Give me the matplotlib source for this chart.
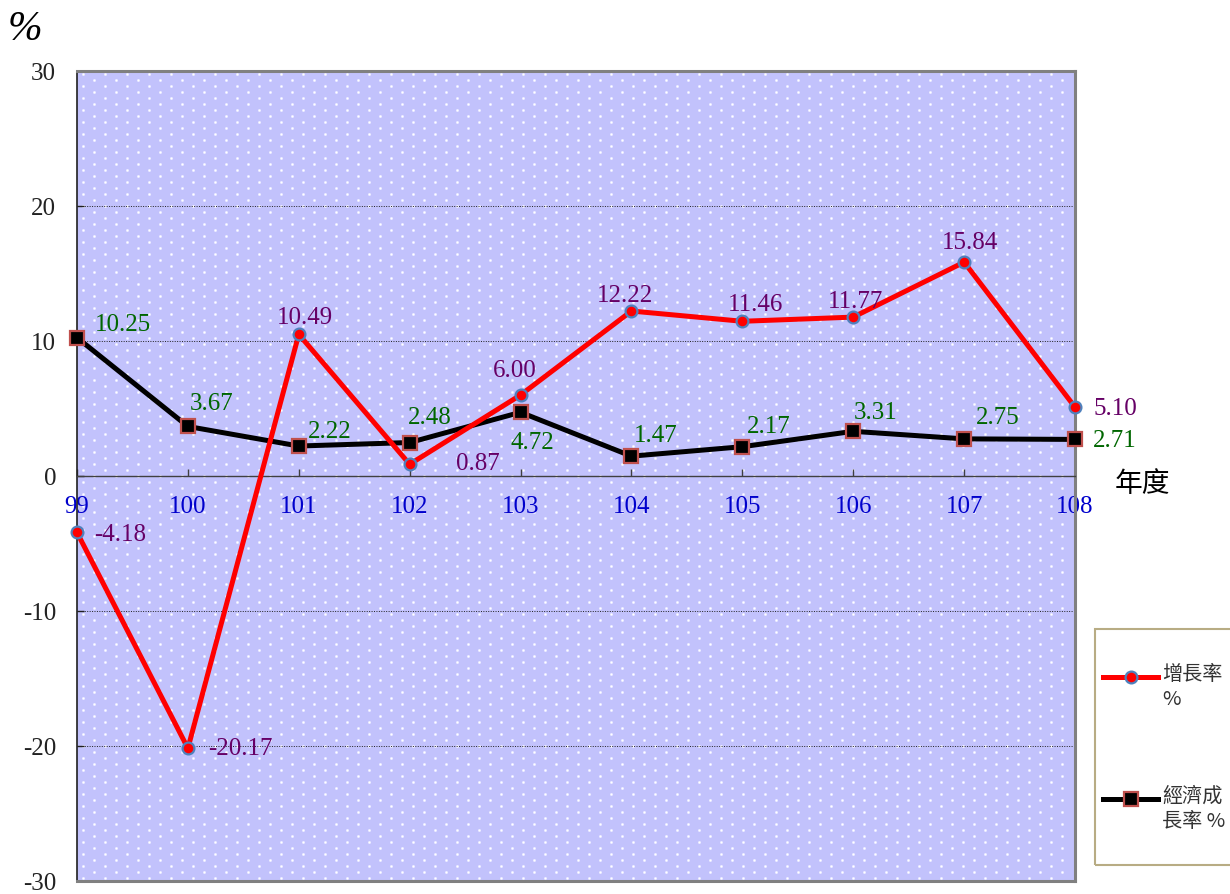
import numpy as np
import matplotlib
matplotlib.use("Agg")
import matplotlib.pyplot as plt
from matplotlib.lines import Line2D
from matplotlib.patches import Rectangle

# ---- data ----
years = ["99", "100", "101", "102", "103", "104", "105", "106", "107", "108"]
growth = [-4.18, -20.17, 10.49, 0.87, 6.00, 12.22, 11.46, 11.77, 15.84, 5.10]
econ = [10.25, 3.67, 2.22, 2.48, 4.72, 1.47, 2.17, 3.31, 2.75, 2.71]
yticks = [30, 20, 10, 0, -10, -20, -30]
growth_name = "增長率\n%"
econ_name = "經濟成\n長率 %"

# label offsets in pixels (dx right, dy up)
growth_off = [(43, -2), (52, 0), (6, 17), (68, 1), (-6, 25), (-6, 16), (13, 17), (2, 16), (6, 20), (40, -1)]
econ_off = [(46, 14), (24, 23), (31, 15), (20, 26), (12, -30), (24, 21), (26, 21), (22, 19), (34, 22), (40, -1)]

W, H = 1230, 895
fig = plt.figure(figsize=(W / 100, H / 100), dpi=100)
fig.patch.set_facecolor("white")

def fx(x):
    return x / W

def fy(y):
    return 1 - y / H

L, R, T, B = 77, 1075, 72, 882
ax = fig.add_axes([fx(L), fy(B), (R - L) / W, (B - T) / H])

serif = "Liberation Serif"
cjk = ["Noto Sans CJK TC", "DejaVu Sans"]
FS = 18

# background dotted pattern
pw, ph = R - L, B - T
img = np.zeros((ph, pw, 3))
img[:, :] = np.array([194, 194, 252]) / 255.0
for r, yy in enumerate(range(3, ph - 2, 6)):
    off = 0 if r % 2 == 0 else 11
    xs = np.arange(6 + off, pw - 2, 22)
    for ddy in (-1, 0, 1):
        for ddx in (-1, 0, 1):
            c = 255 if (ddx == 0 and ddy == 0) else (235 if ddx == 0 or ddy == 0 else 215)
            img[yy + ddy, xs + ddx] = np.array([c, c, 255]) / 255.0
ax.imshow(img, extent=[0, 1, 0, 1], transform=ax.transAxes, aspect="auto",
          interpolation="nearest", zorder=0)

x = np.arange(len(years))
ax.set_xlim(0, len(years) - 1)
ax.set_ylim(-30, 30)

# grid lines
for v in [20, 10, -10, -20]:
    ax.axhline(v, color="#222222", lw=0.7, ls=(0, (1, 1.5)), zorder=1)

# series
ax.plot(x, econ, color="black", lw=3.6, marker="s", markersize=10,
        markerfacecolor="black", markeredgecolor="#C0504D", markeredgewidth=1.6,
        zorder=3, clip_on=False)
ax.plot(x, growth, color="#FF0000", lw=3.6, marker="o", markersize=8.5,
        markerfacecolor="#FF0000", markeredgecolor="#4F81BD", markeredgewidth=1.6,
        zorder=4, clip_on=False)

for i, v in enumerate(growth):
    dx, dy = growth_off[i]
    ax.annotate(f"{v:.2f}", (x[i], v), xytext=(dx * 0.72, dy * 0.72),
                textcoords="offset points", ha="center", va="center",
                color="#660066", fontsize=FS, family=serif, zorder=5,
                annotation_clip=False)
for i, v in enumerate(econ):
    dx, dy = econ_off[i]
    ax.annotate(f"{v:.2f}", (x[i], v), xytext=(dx * 0.72, dy * 0.72),
                textcoords="offset points", ha="center", va="center",
                color="#006600", fontsize=FS, family=serif, zorder=5,
                annotation_clip=False)

# axes styling
ax.spines["bottom"].set_position(("data", 0))
ax.spines["bottom"].set_color("#404040")
ax.spines["bottom"].set_linewidth(1.0)
ax.spines["left"].set_color("#202020")
ax.spines["left"].set_linewidth(1.2)
for s in ["top", "right"]:
    ax.spines[s].set_color("#808080")
    ax.spines[s].set_linewidth(2.2)
ax.add_line(Line2D([0, 1], [0, 0], transform=ax.transAxes, color="#808080",
                   lw=2.2, clip_on=False, zorder=6))

ax.set_xticks(x)
ax.set_xticklabels(years)
ax.tick_params(axis="x", direction="in", length=5, width=1, color="#404040",
               pad=14, labelcolor="#0000CC", labelsize=FS)
ax.set_yticks(yticks)
ax.set_yticklabels([str(v) for v in yticks])
ax.tick_params(axis="y", direction="in", length=5, width=1, color="#202020",
               pad=15, labelcolor="#222222", labelsize=FS)
for lab in ax.get_xticklabels() + ax.get_yticklabels():
    lab.set_family(serif)

# titles
fig.text(fx(8), fy(10), "%", fontsize=30, family=serif, style="italic",
         ha="left", va="top", color="black")
fig.text(fx(1142), fy(484), "年度", fontsize=20, family=cjk,
         ha="center", va="center", color="black")

# legend (manual)
fig.add_artist(Rectangle((fx(1095), fy(866)), fx(1232 - 1095), (866 - 630) / H,
                         transform=fig.transFigure, fill=False,
                         edgecolor="#B8AC84", lw=1.5))
fig.add_artist(Line2D([fx(1103), fx(1158)], [fy(678), fy(678)], color="#FF0000",
                      lw=3.6, transform=fig.transFigure))
fig.add_artist(Line2D([fx(1131)], [fy(678)], marker="o", markersize=8.5,
                      markerfacecolor="#FF0000", markeredgecolor="#4F81BD",
                      markeredgewidth=1.6, transform=fig.transFigure))
fig.add_artist(Line2D([fx(1103), fx(1158)], [fy(800), fy(800)], color="black",
                      lw=3.6, transform=fig.transFigure))
fig.add_artist(Line2D([fx(1131)], [fy(800)], marker="s", markersize=10,
                      markerfacecolor="black", markeredgecolor="#C0504D",
                      markeredgewidth=1.6, transform=fig.transFigure))
fig.text(fx(1162), fy(664), growth_name, fontsize=14.5, family=cjk, ha="left",
         va="top", color="#333333", linespacing=1.25)
fig.text(fx(1162), fy(786), econ_name, fontsize=14.5, family=cjk, ha="left",
         va="top", color="#333333", linespacing=1.25)

fig.savefig("out.png", dpi=100)
